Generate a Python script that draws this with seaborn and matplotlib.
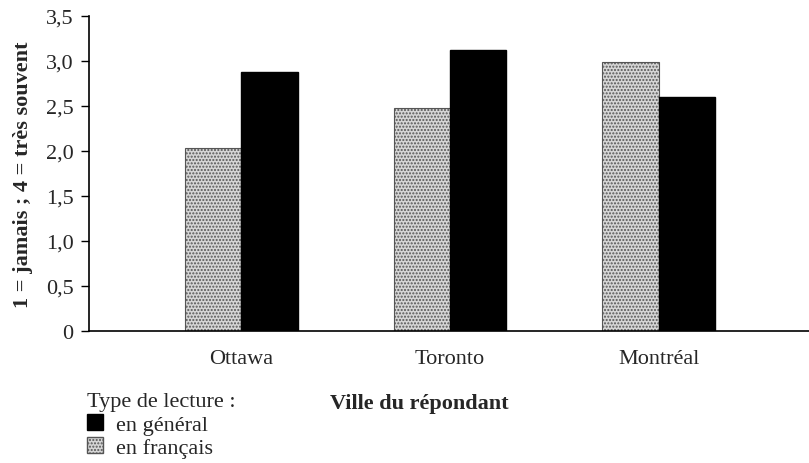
import pandas as pd
import seaborn as sns
import matplotlib.pyplot as plt
from matplotlib.patches import Patch

villes = ["Ottawa", "Toronto", "Montréal"]
en_francais = [2.03, 2.48, 2.99]
en_general = [2.88, 3.12, 2.60]
yticks = [0, 0.5, 1.0, 1.5, 2.0, 2.5, 3.0, 3.5]
ytick_labels = ["0", "0,5", "1,0", "1,5", "2,0", "2,5", "3,0", "3,5"]

df = pd.DataFrame({
    "ville": villes * 2,
    "type": ["en français"] * 3 + ["en général"] * 3,
    "score": en_francais + en_general,
})

sns.set_theme(style="ticks")
plt.rcParams["font.family"] = ["Liberation Serif", "DejaVu Serif"]
fs = 16

fig = plt.figure(figsize=(8.09, 4.64), dpi=100)
ax = fig.add_axes([0.110, 0.2845, 0.89, 0.679])

colors = {"en français": "#d6d6d6", "en général": "black"}
sns.barplot(data=df, x="ville", y="score", hue="type",
            hue_order=["en français", "en général"], palette=colors,
            width=0.54, edgecolor="black", linewidth=1, ax=ax, legend=False)

# light dotted fill for the "en français" bars
for bar in ax.patches:
    if bar.get_facecolor()[0] > 0.5:
        bar.set_hatch(".....")
        bar.set_edgecolor("#555555")
        bar.set_linewidth(0.8)

ax.set_xlim(-0.73, 2.72)
ax.set_ylim(0, 3.5)
ax.set_yticks(yticks)
ax.set_yticklabels(ytick_labels, fontsize=fs)
ax.tick_params(axis="y", direction="out", length=6, width=1, color="black", pad=5)
ax.tick_params(axis="x", length=0, labelsize=fs, pad=13)
ax.set_xlabel("")
ax.set_ylabel("1 = jamais ; 4 = très souvent", fontsize=fs, fontweight="bold", labelpad=9)
sns.despine(ax=ax)
for s in ["left", "bottom"]:
    ax.spines[s].set_color("black")
    ax.spines[s].set_linewidth(1.2)

fig.text(0.408, 0.118, "Ville du répondant", fontsize=fs, fontweight="bold")

handles = [
    Patch(facecolor="black", edgecolor="black", label="en général"),
    Patch(facecolor="#d6d6d6", edgecolor="#555555", hatch=".....", label="en français"),
]
leg = fig.legend(handles=handles, title="Type de lecture :", loc="upper left",
                 bbox_to_anchor=(0.108, 0.152), frameon=False, fontsize=fs,
                 title_fontsize=fs, handlelength=0.7, handleheight=0.7,
                 handletextpad=0.6, labelspacing=0.12, borderaxespad=0,
                 borderpad=0)
leg._legend_box.align = "left"

fig.savefig("out.png", dpi=100)
